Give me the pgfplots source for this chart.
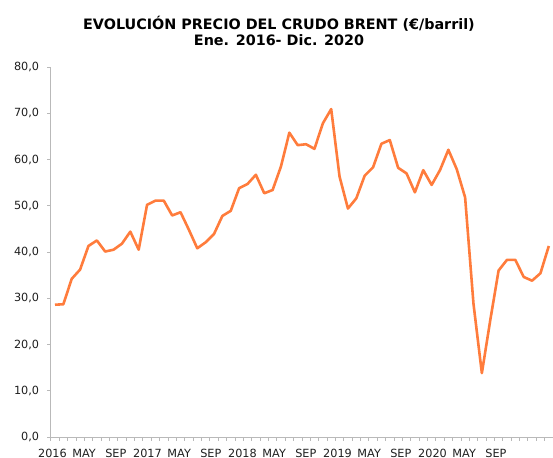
\documentclass[border=0pt]{standalone}
\usepackage{pgfplots}
\pgfplotsset{compat=1.18}
\usepackage{fontspec}
\setmainfont{DejaVu Sans}
\definecolor{brent}{RGB}{255,124,60}
\definecolor{axgray}{RGB}{185,185,185}
\definecolor{txt}{RGB}{30,30,30}
\begin{document}
\begin{tikzpicture}
\useasboundingbox (0,0) rectangle (553bp,458bp);
\node[anchor=base, font=\fontsize{14.4}{16.5}\selectfont\bfseries] at (279bp,428.5bp) {EVOLUCIÓN PRECIO DEL CRUDO BRENT (€/barril)};
\node[anchor=base, font=\fontsize{14.4}{16.5}\selectfont\bfseries] at (279bp,412bp) {Ene. 2016- Dic. 2020};
\begin{axis}[
  at={(50.8bp,21bp)}, anchor=south west,
  scale only axis, width=502.2bp, height=370bp,
  xmin=-0.5, xmax=59.5, ymin=0, ymax=80,
  axis lines=left,
  axis line style={-, draw=axgray, line width=0.9bp},
  tick style={draw=axgray, line width=0.8bp},
  tick align=outside,
  major tick length=3.8bp,
  minor tick length=3.8bp,
  xtick={-0.30,3.48,7.27,11.05,14.84,18.62,22.40,26.19,29.97,33.76,37.54,41.32,45.11,48.89,52.68},
  xticklabels={2016,MAY,SEP,2017,MAY,SEP,2018,MAY,SEP,2019,MAY,SEP,2020,MAY,SEP},
  major x tick style={draw=none},
  minor xtick={-0.5,0.5,...,59.5},
  xticklabel style={anchor=base, yshift=-16.2bp, inner sep=0pt},
  ytick={0,10,...,80},
  yticklabel style={anchor=base east, inner sep=0pt, xshift=-7.7bp, yshift=-0.36em},
  ticklabel style={font=\fontsize{11.3}{13}\selectfont, text=txt},
  /pgf/number format/.cd, fixed, fixed zerofill, precision=1, use comma, assume math mode=true,
]
\addplot[brent, line width=2.6bp, line join=round, mark=none] coordinates {
(0,28.6) (1,28.7) (2,34.2) (3,36.2) (4,41.3) (5,42.5) (6,40.1) (7,40.5) (8,41.8) (9,44.4)
(10,40.5) (11,50.2) (12,51.1) (13,51.1) (14,47.9) (15,48.6) (16,44.8) (17,40.8) (18,42.1) (19,43.9)
(20,47.8) (21,48.9) (22,53.8) (23,54.7) (24,56.7) (25,52.7) (26,53.4) (27,58.5) (28,65.8) (29,63.1)
(30,63.3) (31,62.3) (32,67.8) (33,70.9) (34,56.3) (35,49.4) (36,51.6) (37,56.5) (38,58.3) (39,63.4)
(40,64.2) (41,58.2) (42,57.0) (43,52.9) (44,57.7) (45,54.5) (46,57.7) (47,62.1) (48,57.9) (49,51.8)
(50,28.8) (51,13.8) (52,25.2) (53,36.0) (54,38.3) (55,38.3) (56,34.6) (57,33.8) (58,35.4) (59,41.3)
};
\end{axis}
\end{tikzpicture}
\end{document}
